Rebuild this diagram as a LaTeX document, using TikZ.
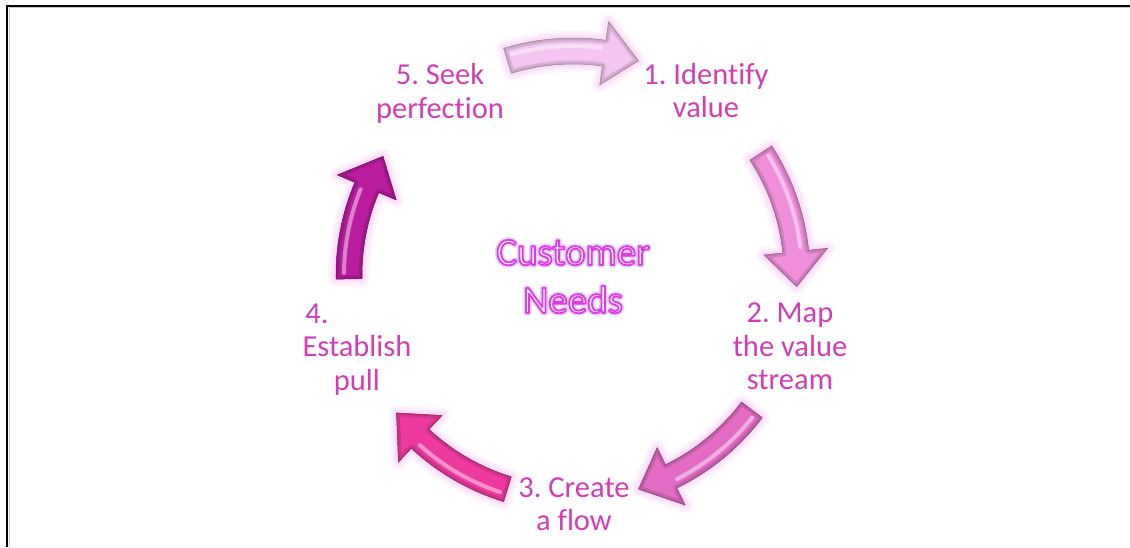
\documentclass[tikz,border=0pt]{standalone}
\usepackage{fontspec}
\setmainfont{Carlito}[Ligatures=NoCommon]
\frenchspacing

\definecolor{labelpink}{RGB}{212,62,180}
\definecolor{arrowglow}{RGB}{246,176,236}
\definecolor{arrowA}{RGB}{243,198,239}
\definecolor{arrowB}{RGB}{239,143,218}
\definecolor{arrowC}{RGB}{226,108,196}
\definecolor{arrowD}{RGB}{238,58,158}
\definecolor{arrowE}{RGB}{186,28,160}

% curved block arrow on the cycle circle (radius 224):
% #1 tail angle, #2 tip angle (clockwise, so #2 < #1), #3 body colour
\newcommand{\cyclearrow}[3]{%
  \pgfmathsetmacro{\hbase}{#2+9}%
  \pgfmathsetmacro{\tailin}{#1-1.5}%
  \pgfmathsetmacro{\hlend}{#2+10}%
  \def\arrowpath{(#1:237) arc[start angle=#1,end angle=\hbase,radius=237]
    -- (\hbase:256) -- (#2:224) -- (\hbase:192) -- (\hbase:211)
    arc[start angle=\hbase,end angle=#1,radius=211] -- cycle}%
  % soft halo
  \foreach \gw/\go in {16/0.10, 11/0.14, 6/0.20}
    {\draw[arrowglow, line width=\gw pt, opacity=\go, line join=round] \arrowpath;}
  \fill[#3] \arrowpath;
  % bevel: darker edges, light ridge
  \begin{scope}
    \clip \arrowpath;
    \draw[#3!55!black, line width=7pt, opacity=.25, line join=round] \arrowpath;
    \draw[#3!70!black, line width=3pt, opacity=.35, line join=round] \arrowpath;
    \draw[white, line width=4pt, opacity=.45, line cap=round]
      (\tailin:229) arc[start angle=\tailin,end angle=\hlend,radius=229];
  \end{scope}
  \draw[#3!65!black, line width=.5pt, line join=round] \arrowpath;
}

% outlined lettering: white face, magenta stroke (PDF text render mode 2)
\newcommand{\outlinedtext}[1]{%
  \special{pdf:literal direct 2 Tr 1.8 w 1 J 1 j 0.886 0.227 0.894 RG}#1%
  \special{pdf:literal direct 0 Tr}}
% soft lavender halo behind the lettering (stroke only, render mode 1)
\newcommand{\halotext}[1]{%
  \special{pdf:literal direct 1 Tr 5 w 1 J 1 j 0.80 0.72 0.96 RG}#1%
  \special{pdf:literal direct 0 Tr}}

\tikzset{
  steplabel/.style={text=labelpink, align=center, inner sep=0pt,
    font=\fontsize{30.5}{33.5}\selectfont},
  needsbase/.style={align=center, inner sep=0pt,
    font=\fontsize{39}{48}\selectfont},
}

\begin{document}
\begin{tikzpicture}[x=1pt,y=1pt]
  \useasboundingbox (-573,-272) rectangle (557,275);
  \fill[white] (-573,-272) rectangle (557,275);

  % frame edges
  \draw[gray!45, line width=1pt] (-563.5,267.5) -- (557,267.5);
  \draw[gray!45, line width=1pt] (-563.5,267.5) -- (-563.5,-272);
  \draw[black, line width=2pt] (-566.5,269) -- (557,269);
  \draw[black, line width=2pt] (-565.5,270) -- (-565.5,-272);

  % cycle arrows
  \cyclearrow{107}{73}{arrowA}
  \cyclearrow{33}{-3}{arrowB}
  \cyclearrow{-37}{-73}{arrowC}
  \cyclearrow{-107}{-142}{arrowD}
  \cyclearrow{181}{148}{arrowE}

  % step labels
  \node[steplabel] (s1) at (133,184.5) {1. Identify\\value};
  \node[steplabel] (s2) at (217,-71.5) {2. Map\\the value\\stream};
  \node[steplabel] (s3) at (1,-229) {3. Create\\a flow};
  \node[steplabel] (s4) at (-216,-74.5) {4.\hspace*{80pt}\\Establish\\pull};
  \node[steplabel] (s5) at (-133,181.5) {5. Seek\\perfection};

  % centre title
  \node[needsbase, text=white, opacity=.6] (needshalo) at (0,-1.5)
    {\halotext{Customer}\\\halotext{Needs}};
  \node[needsbase, text=white] (needs) at (0,-1.5)
    {\outlinedtext{Customer}\\\outlinedtext{Needs}};
\end{tikzpicture}
\end{document}
